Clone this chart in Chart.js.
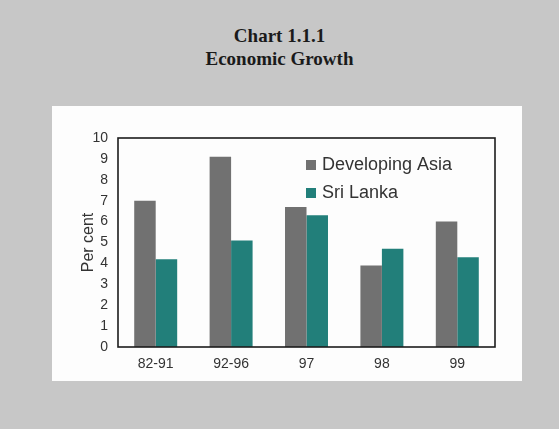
<!DOCTYPE html>
<html>
<head>
<meta charset="utf-8">
<title>Economic Growth</title>
<script src="https://cdn.jsdelivr.net/npm/chart.js@4"></script>
<style>
  html, body { margin: 0; padding: 0; }
  body { width: 559px; height: 429px; background: #c7c7c7; position: relative; overflow: hidden; }
  .heading {
    position: absolute; left: 0; width: 559px; text-align: center;
    font-family: "Liberation Serif", "Times New Roman", serif; font-weight: bold;
    color: #1a1a1a; font-size: 19px;
  }
  #panel { position: absolute; left: 52px; top: 106px; width: 470px; height: 275px; background: #fdfdfd; }
  #panel canvas { position: absolute; left: 0; top: 0; }
</style>
</head>
<body>
<div class="heading" style="top:25px">Chart 1.1.1</div>
<div class="heading" style="top:48px">Economic Growth</div>
<div id="panel"><canvas id="growth" width="470" height="275"></canvas></div>
<script>
// Real GDP growth, per cent
const periods = ["82-91", "92-96", "97", "98", "99"]
const developingAsia = [7.0, 9.1, 6.7, 3.9, 6.0]
const sriLanka = [4.2, 5.1, 6.3, 4.7, 4.3]
const yTicks = [0, 1, 2, 3, 4, 5, 6, 7, 8, 9, 10]

const textColor = "#333"
const sans = "'Liberation Sans', Arial, sans-serif"

// frame around the plot area
const framePlugin = {
  id: "frame",
  afterDatasetsDraw(chart) {
    const { ctx, chartArea: a } = chart
    ctx.save()
    ctx.strokeStyle = "#1c1c1c"
    ctx.lineWidth = 1.6
    ctx.strokeRect(a.left, a.top, a.right - a.left, a.bottom - a.top)
    ctx.restore()
  },
}

// legend sits inside the plot, upper right
const insideLegend = {
  id: "insideLegend",
  afterDraw(chart) {
    const { ctx } = chart
    ctx.save()
    ctx.font = "18px " + sans
    ctx.textBaseline = "middle"
    chart.data.datasets.forEach((ds, i) => {
      const y = 59 + i * 28
      ctx.fillStyle = ds.backgroundColor
      ctx.fillRect(254, y - 5, 10, 10)
      ctx.fillStyle = textColor
      ctx.fillText(ds.label, 270, y)
    })
    ctx.restore()
  },
}

new Chart(document.getElementById("growth"), {
  type: "bar",
  data: {
    labels: periods,
    datasets: [
      { label: "Developing Asia", data: developingAsia, backgroundColor: "#717171" },
      { label: "Sri Lanka", data: sriLanka, backgroundColor: "#227f7a" },
    ],
  },
  options: {
    responsive: false,
    animation: false,
    layout: { padding: { left: 0, top: 32, right: 27, bottom: 0 } },
    datasets: { bar: { categoryPercentage: 0.57, barPercentage: 1.0, borderWidth: 0 } },
    plugins: { legend: { display: false }, tooltip: { enabled: false } },
    scales: {
      x: {
        grid: { display: false, drawTicks: false },
        border: { display: false },
        ticks: { color: textColor, font: { family: sans, size: 14 }, padding: 9 },
        afterFit(scale) { scale.height = 34 },
      },
      y: {
        min: 0,
        max: 10,
        afterBuildTicks(scale) { scale.ticks = yTicks.map(v => ({ value: v })) },
        grid: { display: false, drawTicks: false },
        border: { display: false },
        ticks: { color: textColor, font: { family: sans, size: 14 }, padding: 10 },
        title: {
          display: true,
          text: "Per cent",
          color: textColor,
          font: { family: sans, size: 16 },
          padding: { top: 27, bottom: 0 },
        },
        afterFit(scale) { scale.width = 66 },
      },
    },
  },
  plugins: [framePlugin, insideLegend],
})
</script>
</body>
</html>
